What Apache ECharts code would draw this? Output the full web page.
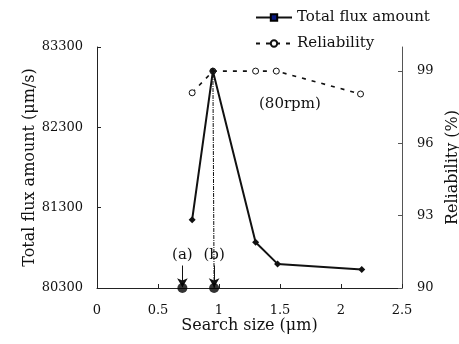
<!DOCTYPE html>
<html><head><meta charset="utf-8">
<script src="https://cdn.jsdelivr.net/npm/echarts@6/dist/echarts.min.js"></script>
<style>html,body{margin:0;padding:0;background:#fff}#c{width:459px;height:344px}</style>
</head><body><div id="c"></div>
<script>
const fluxX = [0.78, 0.95, 1.3, 1.48, 2.17];
const fluxY = [81150, 83000, 80870, 80600, 80530];
const relX = [0.78, 0.95, 1.3, 1.47, 2.16];
const relY = [98.1, 99.0, 99.0, 99.0, 98.05];
const pointsX = [0.70, 0.96];
const pointsY = [80300, 80300];
const pointLabels = ['(a)', '(b)'];
const leftTicks = [80300, 81300, 82300, 83300];
const rightTicks = [90, 93, 96, 99];
const xTicks = [0, 0.5, 1, 1.5, 2, 2.5];

const FONT = 'DejaVu Serif';
const chart = echarts.init(document.getElementById('c'));
const axisCommon = {
  nameMoveOverlap: false,
  axisLine: {show: true, lineStyle: {color: '#222', width: 1}},
  axisTick: {show: true, inside: true, length: 4, lineStyle: {color: '#222'}},
  splitLine: {show: false},
  axisLabel: {fontFamily: FONT, fontSize: 13, color: '#111', formatter: v => String(v)},
  nameTextStyle: {fontFamily: FONT, fontSize: 16, color: '#111'}
};
chart.setOption({
  animation: false,
  backgroundColor: '#fff',
  grid: {left: 97, right: 57, top: 47, bottom: 56, containLabel: false, outerBoundsMode: 'none'},
  legend: {
    orient: 'vertical', left: 250, top: 5, itemGap: 11, itemWidth: 36, itemHeight: 8,
    textStyle: {fontFamily: FONT, fontSize: 15, color: '#111'},
    data: ['Total flux amount', 'Reliability']
  },
  xAxis: Object.assign({}, axisCommon, {
    type: 'value', min: 0, max: 2.5, interval: 0.5,
    name: 'Search size (μm)', nameLocation: 'middle', nameGap: 30,
    axisLabel: Object.assign({}, axisCommon.axisLabel, {margin: 16, customValues: xTicks})
  }),
  yAxis: [
    Object.assign({}, axisCommon, {
      type: 'value', min: 80300, max: 83300, interval: 1000,
      name: 'Total flux amount (μm/s)', nameLocation: 'middle', nameGap: 59,
      axisLabel: Object.assign({}, axisCommon.axisLabel, {margin: 14, customValues: leftTicks})
    }),
    Object.assign({}, axisCommon, {
      type: 'value', min: 90, max: 100, position: 'right',
      name: 'Reliability (%)', nameLocation: 'middle', nameGap: 43,
      axisLine: {show: true, lineStyle: {color: '#555', width: 1}},
      axisTick: {show: true, inside: true, length: 4, lineStyle: {color: '#555'}, customValues: rightTicks},
      axisLabel: Object.assign({}, axisCommon.axisLabel, {margin: 15, customValues: rightTicks})
    })
  ],
  graphic: [{
    type: 'text', left: 259, top: 97,
    style: {text: '(80rpm)', font: '15px "DejaVu Serif"', fill: '#111'}
  }],
  series: [
    {
      name: 'Total flux amount', type: 'line', yAxisIndex: 0, data: [],
      symbol: 'rect', symbolSize: 7,
      itemStyle: {color: '#0a1a80', borderColor: '#000', borderWidth: 1},
      lineStyle: {color: '#111', width: 1.5}
    },
    {
      name: 'peakLine', type: 'line', yAxisIndex: 0, symbol: 'none', silent: true,
      data: [[pointsX[1], pointsY[1]], [fluxX[1], fluxY[1]]],
      lineStyle: {color: '#111', width: 1, type: [4, 1, 1, 1]}, z: 1
    },
    {
      name: 'Reliability', type: 'line', yAxisIndex: 1,
      data: relX.map((x, i) => [x, relY[i]]),
      symbol: 'circle', symbolSize: 6,
      itemStyle: {color: '#fff', borderColor: '#111', borderWidth: 1},
      lineStyle: {color: '#111', width: 1.6, type: [4, 6]}, z: 2
    },
    {
      name: 'Total flux amount', type: 'line', yAxisIndex: 0,
      data: fluxX.map((x, i) => [x, fluxY[i]]),
      symbol: 'diamond', symbolSize: 7,
      itemStyle: {color: '#111'},
      lineStyle: {color: '#111', width: 2}, z: 3
    },
    {
      name: 'points', type: 'scatter', yAxisIndex: 0,
      data: pointsX.map((x, i) => [x, pointsY[i]]),
      symbol: 'circle', symbolSize: 10, itemStyle: {color: '#000'}, z: 5,
      markLine: {
        silent: true, symbol: ['none', 'arrow'], symbolSize: [8, 9],
        lineStyle: {color: '#111', width: 1, type: 'solid'},
        label: {show: true, position: 'start', formatter: p => p.name, fontFamily: FONT, fontSize: 15, color: '#111', distance: 3},
        data: pointsX.map((x, i) => [
          {name: pointLabels[i], coord: [x, 80580]},
          {coord: [x, 80310]}
        ])
      }
    }
  ]
});
</script></body></html>
